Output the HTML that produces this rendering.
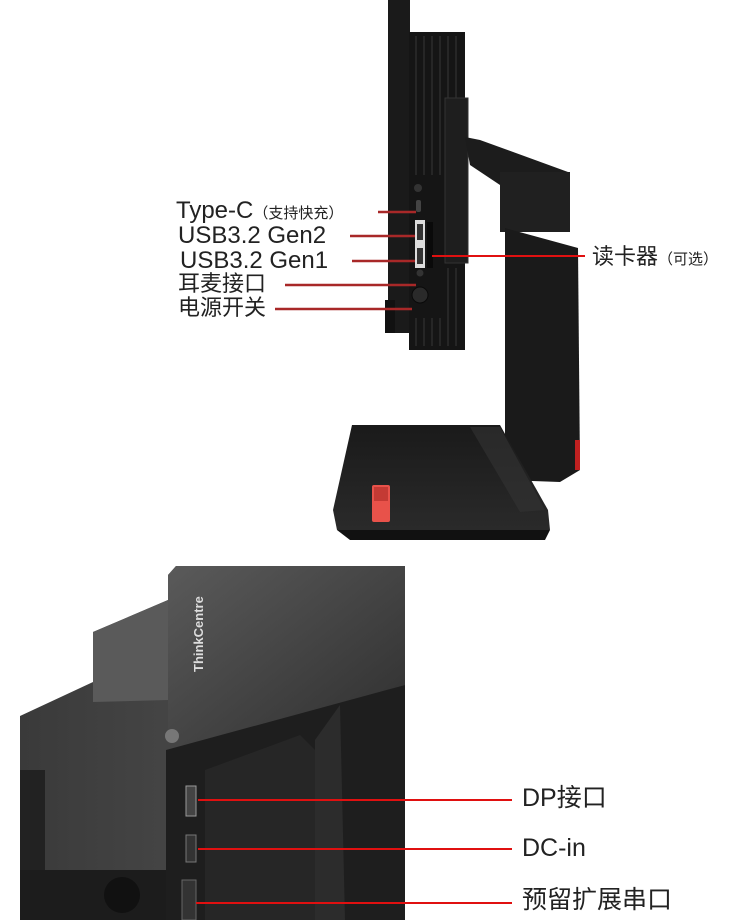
<!DOCTYPE html>
<html><head><meta charset="utf-8"><style>
html,body{margin:0;padding:0;background:#fff;}
body{width:750px;height:920px;position:relative;overflow:hidden;font-family:"Liberation Sans","Noto Sans CJK SC",sans-serif;color:#222;}
.t{position:absolute;white-space:nowrap;line-height:1;}
</style></head><body>
<svg width="750" height="920" style="position:absolute;left:0;top:0">
<defs>
<linearGradient id="g1" x1="0" y1="0" x2="1" y2="1"><stop offset="0" stop-color="#5a5a5a"/><stop offset="1" stop-color="#2e2e2e"/></linearGradient>
<linearGradient id="g2" x1="0" y1="0" x2="1" y2="0"><stop offset="0" stop-color="#3a3a3a"/><stop offset="1" stop-color="#555"/></linearGradient>
<linearGradient id="gb" x1="0" y1="0" x2="0" y2="1"><stop offset="0" stop-color="#1a1a1a"/><stop offset="1" stop-color="#2a2a2a"/></linearGradient>
</defs>
<rect x="388" y="0" width="22" height="333" fill="#1a1a1a"/>
<rect x="385" y="300" width="10" height="33" fill="#111"/>
<rect x="409" y="32" width="56" height="318" fill="#151515"/>
<g stroke="#2c2c2c" stroke-width="1.5">
<line x1="416" y1="36" x2="416" y2="175"/><line x1="424" y1="36" x2="424" y2="175"/><line x1="432" y1="36" x2="432" y2="175"/><line x1="440" y1="36" x2="440" y2="175"/><line x1="448" y1="36" x2="448" y2="98"/><line x1="456" y1="36" x2="456" y2="98"/>
<line x1="416" y1="318" x2="416" y2="346"/><line x1="424" y1="318" x2="424" y2="346"/><line x1="432" y1="318" x2="432" y2="346"/><line x1="440" y1="318" x2="440" y2="346"/><line x1="448" y1="268" x2="448" y2="346"/><line x1="456" y1="268" x2="456" y2="346"/>
</g>
<rect x="445" y="98" width="23" height="165" fill="#1e1e1e" stroke="#333"/>
<circle cx="418" cy="188" r="4" fill="#333"/>
<rect x="416" y="200" width="5" height="12" rx="2" fill="#444"/>
<rect x="415" y="220" width="10" height="24" fill="#ddd"/><rect x="417" y="224" width="6" height="16" fill="#333"/>
<rect x="415" y="244" width="10" height="24" fill="#ddd"/><rect x="417" y="248" width="6" height="16" fill="#333"/>
<rect x="427" y="222" width="6" height="46" fill="#0a0a0a"/>
<circle cx="420" cy="273" r="3.5" fill="#333"/>
<circle cx="420" cy="295" r="8" fill="#2a2a2a" stroke="#0a0a0a"/>
<polygon points="465,137 480,140 568,172 570,185 500,185 470,165" fill="#1c1c1c"/>
<rect x="500" y="172" width="70" height="60" fill="#202020"/>
<polygon points="505,228 578,248 580,470 560,482 505,480" fill="#1a1a1a"/>
<rect x="575" y="440" width="5" height="30" fill="#c02020"/>
<polygon points="352,425 500,425 548,510 550,530 337,530 333,510" fill="url(#gb)"/>
<polygon points="337,530 550,530 545,540 350,540" fill="#111"/>
<polygon points="470,427 500,427 545,510 520,512" fill="#333" opacity=".6"/>
<rect x="372" y="485" width="18" height="37" rx="2" fill="#e8524a"/>
<rect x="374" y="487" width="14" height="14" fill="#c43a34"/>
<polygon points="20,716 93,682 93,632 168,600 168,575 176,566 405,566 405,920 20,920" fill="url(#g2)"/>
<polygon points="93,632 168,600 168,700 93,702" fill="#5a5a5a"/>
<polygon points="168,575 176,566 405,566 405,685 180,750 168,750" fill="url(#g1)"/>
<polygon points="166,750 405,685 405,920 166,920" fill="#1e1e1e"/>
<polygon points="205,770 300,735 315,750 315,920 205,920" fill="#262626"/>
<polygon points="315,740 340,705 345,920 315,920" fill="#2c2c2c"/>
<rect x="20" y="770" width="25" height="150" fill="#222"/>
<rect x="20" y="870" width="146" height="50" fill="#1c1c1c"/>
<circle cx="122" cy="895" r="18" fill="#111"/>
<circle cx="172" cy="736" r="7" fill="#777"/>
<rect x="186" y="786" width="10" height="30" fill="#444" stroke="#999"/>
<rect x="186" y="835" width="10" height="27" fill="#333" stroke="#777"/>
<rect x="182" y="880" width="14" height="40" fill="#333" stroke="#666"/>
<text x="0" y="0" transform="translate(203,672) rotate(-90)" font-family="Liberation Sans" font-weight="bold" font-size="13" fill="#ddd">ThinkCentre</text>
<g stroke="#a82828" stroke-width="2.5">
<line x1="378" y1="212" x2="416" y2="212"/>
<line x1="350" y1="236" x2="415" y2="236"/>
<line x1="352" y1="261" x2="415" y2="261"/>
<line x1="285" y1="285" x2="416" y2="285"/>
<line x1="275" y1="309" x2="412" y2="309"/>
</g>
<g stroke="#e01010" stroke-width="2">
<line x1="432" y1="256" x2="585" y2="256"/>
<line x1="198" y1="800" x2="512" y2="800"/>
<line x1="198" y1="849" x2="512" y2="849"/>
<line x1="196" y1="903" x2="512" y2="903"/>
</g>
</svg>
<div class="t" style="left:176px;top:199px;font-size:24px">Type-C<span style="font-size:15px">（支持快充）</span></div>
<div class="t" style="left:178px;top:224px;font-size:24px">USB3.2 Gen2</div>
<div class="t" style="left:180px;top:249px;font-size:24px">USB3.2 Gen1</div>
<div class="t" style="left:178px;top:273px;font-size:22px">耳麦接口</div>
<div class="t" style="left:178px;top:297px;font-size:22px">电源开关</div>
<div class="t" style="left:592px;top:246px;font-size:22px">读卡器<span style="font-size:15px">（可选）</span></div>
<div class="t" style="left:522px;top:786px;font-size:25px">DP接口</div>
<div class="t" style="left:522px;top:836px;font-size:25px">DC-in</div>
<div class="t" style="left:522px;top:888px;font-size:25px">预留扩展串口</div>
</body></html>
